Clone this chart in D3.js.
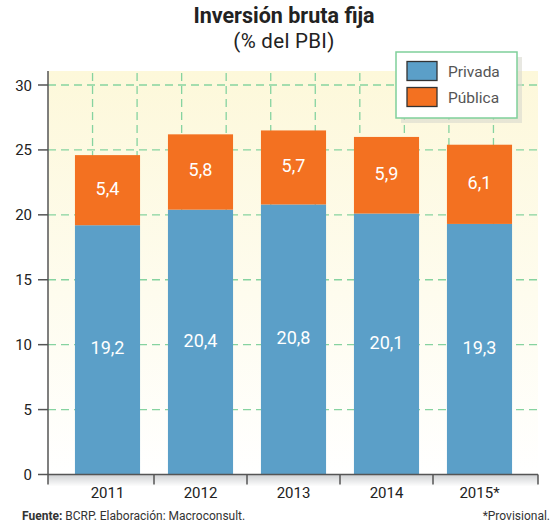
<!DOCTYPE html>
<html>
<head>
<meta charset="utf-8">
<script src="https://cdn.jsdelivr.net/npm/d3@7"></script>
<style>
  html, body { margin: 0; padding: 0; background: #fff; }
  svg { display: block; font-family: Roboto, "Liberation Sans", sans-serif; }
</style>
</head>
<body>
<svg id="chart" width="552" height="529"></svg>
<script>
// Inversión bruta fija, % del PBI
const years = ["2011", "2012", "2013", "2014", "2015*"];
const privada = [19.2, 20.4, 20.8, 20.1, 19.3];
const publica = [5.4, 5.8, 5.7, 5.9, 6.1];
const yTicks = [0, 5, 10, 15, 20, 25, 30];
const seriesNames = ["Privada", "Pública"];
const seriesColors = ["#5b9fc8", "#f37121"];

const fmt = v => String(v).replace(".", ",");

const svg = d3.select("#chart");
const plot = { left: 48, right: 538, top: 71, bottom: 474.5 };

const y = d3.scaleLinear().domain([0, 30]).range([plot.bottom, 85]);
const x = d3.scaleBand().domain(years).range([61, 526]).paddingInner(0.3).paddingOuter(0.15);

const defs = svg.append("defs");
const bg = defs.append("linearGradient").attr("id", "bgGrad").attr("x1", 0).attr("y1", 0).attr("x2", 0).attr("y2", 1);
bg.append("stop").attr("offset", "0%").attr("stop-color", "#fdf8da");
bg.append("stop").attr("offset", "55%").attr("stop-color", "#fefcee");
bg.append("stop").attr("offset", "100%").attr("stop-color", "#ffffff");
const ax = defs.append("linearGradient").attr("id", "axGrad").attr("x1", 0).attr("y1", 0).attr("x2", 0).attr("y2", 1);
ax.append("stop").attr("offset", "0%").attr("stop-color", "#cfd1d3");
ax.append("stop").attr("offset", "100%").attr("stop-color", "#ffffff");

// plot background
svg.append("rect")
  .attr("x", plot.left).attr("y", plot.top)
  .attr("width", plot.right - plot.left).attr("height", plot.bottom - plot.top)
  .attr("fill", "url(#bgGrad)");

// grid
const gridColor = "#86d3a0";
svg.append("g").selectAll("line").data(yTicks.filter(d => d > 0)).join("line")
  .attr("x1", plot.left).attr("x2", plot.right)
  .attr("y1", d => y(d)).attr("y2", d => y(d))
  .attr("stroke", gridColor).attr("stroke-width", 1.3).attr("stroke-dasharray", "8,5");

const vGrid = d3.scaleLinear().domain([0, 11]).range([plot.left, plot.right]);
svg.append("g").selectAll("line").data(d3.range(1, 11)).join("line")
  .attr("x1", d => vGrid(d)).attr("x2", d => vGrid(d))
  .attr("y1", plot.top).attr("y2", plot.bottom)
  .attr("stroke", gridColor).attr("stroke-width", 1.3).attr("stroke-dasharray", "8,5")
  .attr("stroke-dashoffset", -2);

// stacked bars
const stackData = years.map((yr, i) => ({ year: yr, Privada: privada[i], "Pública": publica[i] }));
const series = d3.stack().keys(seriesNames)(stackData);
const color = d3.scaleOrdinal().domain(seriesNames).range(seriesColors);

const layers = svg.append("g").selectAll("g").data(series).join("g")
  .attr("fill", d => color(d.key));
layers.selectAll("rect").data(d => d).join("rect")
  .attr("x", d => x(d.data.year))
  .attr("width", x.bandwidth())
  .attr("y", d => y(d[1]))
  .attr("height", d => y(d[0]) - y(d[1]));

// value labels
const labels = svg.append("g").attr("font-size", 18).attr("fill", "#fff").attr("text-anchor", "middle");
series.forEach(s => {
  labels.append("g").selectAll("text").data(s).join("text")
    .attr("x", d => x(d.data.year) + x.bandwidth() / 2)
    .attr("y", d => y((d[0] + d[1]) / 2) + 4.5)
    .text(d => fmt(d.data[s.key]));
});

// bottom axis band
svg.append("rect")
  .attr("x", plot.left).attr("y", plot.bottom)
  .attr("width", plot.right - plot.left).attr("height", 12)
  .attr("fill", "url(#axGrad)");

const axisColor = "#555";
svg.append("line")
  .attr("x1", plot.left).attr("x2", plot.right)
  .attr("y1", plot.bottom).attr("y2", plot.bottom)
  .attr("stroke", axisColor).attr("stroke-width", 1.5);

const step = x.step();
const bounds = [plot.left].concat(years.slice(1).map(d => x(d) - (step - x.bandwidth()) / 2)).concat([plot.right]);
svg.append("g").selectAll("line").data(bounds).join("line")
  .attr("x1", d => d).attr("x2", d => d)
  .attr("y1", plot.bottom).attr("y2", plot.bottom + 10)
  .attr("stroke", axisColor).attr("stroke-width", 1.5);

svg.append("g").selectAll("text").data(years).join("text")
  .attr("x", d => x(d) + x.bandwidth() / 2)
  .attr("y", 498)
  .attr("text-anchor", "middle").attr("font-size", 15).attr("fill", "#222")
  .text(d => d);

// left axis
svg.append("line")
  .attr("x1", plot.left).attr("x2", plot.left)
  .attr("y1", plot.top).attr("y2", plot.bottom)
  .attr("stroke", axisColor).attr("stroke-width", 1.5);
svg.append("g").selectAll("line").data(yTicks).join("line")
  .attr("x1", 38).attr("x2", plot.left)
  .attr("y1", d => y(d)).attr("y2", d => y(d))
  .attr("stroke", axisColor).attr("stroke-width", 1.5);
svg.append("g").selectAll("text").data(yTicks).join("text")
  .attr("x", 32).attr("y", d => y(d) + 5.5)
  .attr("text-anchor", "end").attr("font-size", 15).attr("fill", "#222")
  .text(d => d);

// title
svg.append("text").attr("x", 284).attr("y", 23).attr("text-anchor", "middle")
  .attr("font-size", 21.5).attr("font-weight", "bold").attr("fill", "#222")
  .text("Inversión bruta fija");
svg.append("text").attr("x", 284).attr("y", 47.5).attr("text-anchor", "middle")
  .attr("font-size", 20.5).attr("fill", "#222").attr("letter-spacing", 0.3)
  .text("(% del PBI)");

// legend
const lg = svg.append("g").attr("transform", "translate(396,52)");
lg.append("rect").attr("x", 5).attr("y", 5).attr("width", 121).attr("height", 66)
  .attr("fill", "#d9d9cf").attr("opacity", 0.6);
lg.append("rect").attr("x", 0).attr("y", 0).attr("width", 121).attr("height", 66)
  .attr("fill", "#fff").attr("stroke", "#7fd09a").attr("stroke-width", 1.5);
seriesNames.forEach((name, i) => {
  lg.append("rect").attr("x", 11).attr("y", 9.5 + i * 26).attr("width", 30).attr("height", 19)
    .attr("fill", seriesColors[i]).attr("stroke", "#333").attr("stroke-width", 1.3);
  lg.append("text").attr("x", 52).attr("y", 24.5 + i * 26)
    .attr("font-size", 15.5).attr("fill", "#555").text(name);
});

// footer
const foot = svg.append("text").attr("x", 22).attr("y", 520).attr("font-size", 12).attr("fill", "#333");
foot.append("tspan").attr("font-weight", "bold").text("Fuente: ");
foot.append("tspan").text("BCRP. Elaboración: Macroconsult.");
svg.append("text").attr("x", 550).attr("y", 520).attr("text-anchor", "end")
  .attr("font-size", 12).attr("fill", "#333").text("*Provisional.");
</script>
</body>
</html>
